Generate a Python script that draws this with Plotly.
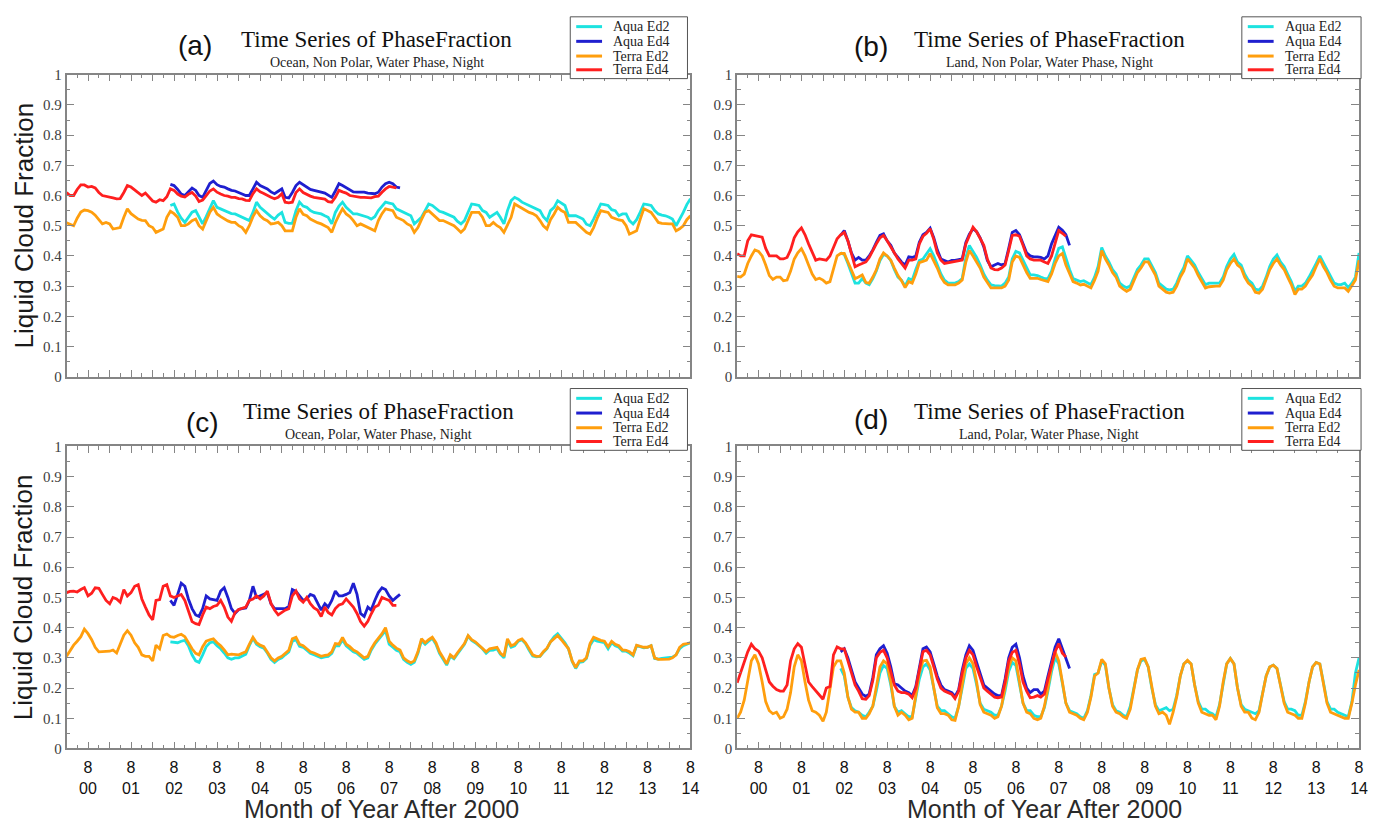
import pandas as pd
import plotly.graph_objects as go

# ---------------- categories / time axes ----------------
terra_months = pd.date_range("2000-02-01", "2014-08-01", freq="MS")      # Terra Ed2
aqua_months = pd.date_range("2002-07-01", "2014-08-01", freq="MS")       # Aqua Ed2
terra_ed4_months = pd.date_range("2000-02-01", "2007-10-01", freq="MS")  # Terra Ed4
aqua_ed4_months = pd.date_range("2002-07-01", "2007-11-01", freq="MS")   # Aqua Ed4

series_names = ["Aqua Ed2", "Aqua Ed4", "Terra Ed2", "Terra Ed4"]
panel_letters = ["(a)", "(b)", "(c)", "(d)"]
panel_subtitles = [
    "Ocean, Non Polar, Water Phase, Night",
    "Land, Non Polar, Water Phase, Night",
    "Ocean, Polar, Water Phase, Night",
    "Land, Polar, Water Phase, Night",
]
x_tick_years = list(range(2000, 2015))
y_tick_values = [0, 0.1, 0.2, 0.3, 0.4, 0.5, 0.6, 0.7, 0.8, 0.9, 1]
y_tick_labels = ["0", "0.1", "0.2", "0.3", "0.4", "0.5", "0.6", "0.7", "0.8", "0.9", "1"]

# ---------------- panel (a): Ocean, Non Polar ----------------
a_terra_ed2 = [
    0.510, 0.505, 0.500, 0.525, 0.545, 0.552, 0.550, 0.545, 0.535, 0.520, 0.506,
    0.511, 0.506, 0.489, 0.492, 0.494, 0.528, 0.556, 0.540, 0.530, 0.522, 0.518, 0.517,
    0.500, 0.494, 0.478, 0.483, 0.489, 0.528, 0.548, 0.540, 0.528, 0.500, 0.500, 0.506,
    0.517, 0.522, 0.500, 0.489, 0.520, 0.545, 0.561, 0.539, 0.530, 0.522, 0.516, 0.511,
    0.511, 0.500, 0.494, 0.478, 0.500, 0.530, 0.550, 0.533, 0.522, 0.517, 0.506, 0.508,
    0.511, 0.500, 0.483, 0.483, 0.483, 0.528, 0.556, 0.538, 0.533, 0.522, 0.515, 0.510,
    0.506, 0.500, 0.494, 0.478, 0.510, 0.535, 0.556, 0.539, 0.530, 0.517, 0.500, 0.506,
    0.500, 0.494, 0.489, 0.483, 0.517, 0.540, 0.556, 0.553, 0.550, 0.528, 0.522, 0.517,
    0.506, 0.500, 0.478, 0.494, 0.520, 0.545, 0.550, 0.539, 0.530, 0.517, 0.517, 0.511,
    0.505, 0.500, 0.490, 0.478, 0.489, 0.520, 0.544, 0.544, 0.544, 0.528, 0.500, 0.500,
    0.511, 0.500, 0.494, 0.478, 0.500, 0.528, 0.572, 0.565, 0.556, 0.550, 0.544, 0.540,
    0.533, 0.517, 0.500, 0.489, 0.520, 0.539, 0.561, 0.550, 0.544, 0.511, 0.511, 0.511,
    0.500, 0.489, 0.478, 0.472, 0.494, 0.525, 0.550, 0.547, 0.544, 0.528, 0.522, 0.519,
    0.517, 0.500, 0.472, 0.478, 0.483, 0.522, 0.556, 0.550, 0.544, 0.528, 0.511, 0.508,
    0.506, 0.506, 0.506, 0.483, 0.490, 0.500, 0.520, 0.533,
]
a_aqua_ed2 = [
    0.567, 0.572, 0.545, 0.525, 0.511, 0.528,
    0.545, 0.550, 0.528, 0.506, 0.530, 0.560, 0.583, 0.561, 0.555, 0.550, 0.545, 0.540,
    0.539, 0.533, 0.528, 0.522, 0.517, 0.544, 0.578, 0.561, 0.550, 0.539, 0.530, 0.522,
    0.535, 0.544, 0.511, 0.508, 0.508, 0.550, 0.578, 0.565, 0.561, 0.550, 0.544, 0.542,
    0.539, 0.533, 0.528, 0.506, 0.544, 0.565, 0.578, 0.561, 0.548, 0.539, 0.539, 0.536,
    0.533, 0.528, 0.522, 0.530, 0.550, 0.565, 0.578, 0.575, 0.572, 0.556, 0.550, 0.544,
    0.538, 0.533, 0.506, 0.517, 0.528, 0.550, 0.572, 0.567, 0.556, 0.548, 0.544, 0.539,
    0.535, 0.528, 0.515, 0.506, 0.517, 0.545, 0.572, 0.570, 0.567, 0.550, 0.544, 0.528,
    0.536, 0.544, 0.528, 0.506, 0.550, 0.583, 0.594, 0.588, 0.578, 0.572, 0.567, 0.561,
    0.556, 0.550, 0.530, 0.517, 0.550, 0.561, 0.583, 0.575, 0.567, 0.533, 0.533, 0.533,
    0.528, 0.522, 0.505, 0.500, 0.522, 0.550, 0.572, 0.570, 0.567, 0.553, 0.550, 0.533,
    0.539, 0.539, 0.517, 0.506, 0.520, 0.545, 0.572, 0.570, 0.567, 0.550, 0.539, 0.535,
    0.533, 0.528, 0.522, 0.500, 0.520, 0.544, 0.570, 0.589,
]
a_terra_ed4 = [
    0.610, 0.600, 0.600, 0.620, 0.635, 0.635, 0.628, 0.630, 0.625, 0.610, 0.600,
    0.598, 0.595, 0.592, 0.589, 0.590, 0.610, 0.633, 0.628, 0.618, 0.610, 0.600, 0.608,
    0.596, 0.582, 0.578, 0.586, 0.583, 0.596, 0.622, 0.617, 0.605, 0.598, 0.595, 0.604,
    0.610, 0.598, 0.580, 0.585, 0.600, 0.615, 0.622, 0.611, 0.605, 0.600, 0.598, 0.594,
    0.594, 0.590, 0.589, 0.584, 0.583, 0.606, 0.622, 0.612, 0.607, 0.600, 0.594, 0.589,
    0.594, 0.606, 0.578, 0.576, 0.578, 0.610, 0.622, 0.610, 0.603, 0.598, 0.594, 0.592,
    0.590, 0.588, 0.580, 0.578, 0.594, 0.617, 0.612, 0.608, 0.600, 0.598, 0.594, 0.594,
    0.594, 0.594, 0.592, 0.596, 0.598, 0.611, 0.622, 0.630, 0.628, 0.625,
]
a_aqua_ed4 = [
    0.637, 0.633, 0.620, 0.605, 0.600, 0.611,
    0.625, 0.617, 0.600, 0.594, 0.617, 0.640, 0.648, 0.636, 0.630, 0.628, 0.622, 0.617,
    0.615, 0.611, 0.605, 0.600, 0.600, 0.622, 0.644, 0.633, 0.628, 0.622, 0.612, 0.606,
    0.614, 0.622, 0.594, 0.592, 0.610, 0.633, 0.644, 0.635, 0.628, 0.620, 0.617, 0.615,
    0.611, 0.608, 0.600, 0.594, 0.615, 0.639, 0.633, 0.625, 0.617, 0.612, 0.611, 0.611,
    0.611, 0.608, 0.606, 0.606, 0.611, 0.628, 0.639, 0.644, 0.639, 0.628, 0.625,
]

# ---------------- panel (b): Land, Non Polar ----------------
b_terra_ed2 = [
    0.332, 0.330, 0.340, 0.375, 0.400, 0.420, 0.415, 0.400, 0.370, 0.335, 0.322,
    0.330, 0.330, 0.318, 0.320, 0.350, 0.390, 0.410, 0.424, 0.400, 0.370, 0.340, 0.322,
    0.326, 0.320, 0.310, 0.315, 0.355, 0.400, 0.408, 0.408, 0.380, 0.350, 0.325, 0.330,
    0.337, 0.312, 0.310, 0.330, 0.354, 0.390, 0.410, 0.400, 0.386, 0.360, 0.335, 0.318,
    0.295, 0.315, 0.310, 0.340, 0.378, 0.382, 0.386, 0.408, 0.385, 0.360, 0.330, 0.312,
    0.304, 0.304, 0.304, 0.310, 0.320, 0.380, 0.418, 0.400, 0.380, 0.360, 0.330, 0.310,
    0.294, 0.294, 0.294, 0.294, 0.300, 0.320, 0.380, 0.400, 0.395, 0.370, 0.345, 0.326,
    0.326, 0.326, 0.322, 0.318, 0.315, 0.340, 0.375, 0.400, 0.408, 0.370, 0.340, 0.315,
    0.310, 0.304, 0.306, 0.300, 0.294, 0.320, 0.350, 0.418, 0.390, 0.370, 0.345, 0.330,
    0.300, 0.290, 0.283, 0.290, 0.315, 0.345, 0.360, 0.380, 0.380, 0.360, 0.337, 0.300,
    0.290, 0.280, 0.277, 0.280, 0.300, 0.330, 0.350, 0.390, 0.375, 0.360, 0.335, 0.315,
    0.294, 0.298, 0.300, 0.300, 0.300, 0.320, 0.354, 0.375, 0.390, 0.370, 0.360, 0.330,
    0.310, 0.300, 0.280, 0.277, 0.290, 0.320, 0.354, 0.375, 0.390, 0.370, 0.355, 0.330,
    0.305, 0.272, 0.290, 0.290, 0.300, 0.320, 0.337, 0.365, 0.390, 0.365, 0.345, 0.320,
    0.300, 0.294, 0.294, 0.294, 0.283, 0.300, 0.320, 0.386,
]
b_aqua_ed2 = [
    0.410, 0.405, 0.375, 0.345, 0.310, 0.310,
    0.325, 0.310, 0.305, 0.325, 0.350, 0.385, 0.405, 0.400, 0.385, 0.355, 0.330, 0.320,
    0.300, 0.325, 0.320, 0.355, 0.385, 0.390, 0.405, 0.424, 0.400, 0.370, 0.340, 0.320,
    0.310, 0.310, 0.310, 0.315, 0.325, 0.395, 0.435, 0.415, 0.395, 0.370, 0.340, 0.320,
    0.304, 0.302, 0.300, 0.300, 0.310, 0.330, 0.390, 0.415, 0.410, 0.385, 0.360, 0.337,
    0.337, 0.335, 0.330, 0.325, 0.325, 0.350, 0.390, 0.425, 0.430, 0.390, 0.355, 0.325,
    0.320, 0.315, 0.318, 0.310, 0.305, 0.330, 0.365, 0.428, 0.400, 0.380, 0.355, 0.340,
    0.310, 0.300, 0.295, 0.300, 0.325, 0.355, 0.370, 0.390, 0.390, 0.370, 0.345, 0.310,
    0.300, 0.290, 0.288, 0.290, 0.310, 0.340, 0.362, 0.400, 0.385, 0.370, 0.345, 0.325,
    0.305, 0.310, 0.310, 0.312, 0.310, 0.330, 0.365, 0.390, 0.405, 0.380, 0.370, 0.340,
    0.320, 0.310, 0.290, 0.287, 0.300, 0.330, 0.365, 0.390, 0.403, 0.380, 0.365, 0.340,
    0.315, 0.283, 0.300, 0.300, 0.310, 0.330, 0.350, 0.375, 0.400, 0.378, 0.355, 0.330,
    0.310, 0.305, 0.305, 0.310, 0.295, 0.310, 0.330, 0.410,
]
b_terra_ed4 = [
    0.408, 0.400, 0.400, 0.450, 0.470, 0.468, 0.465, 0.462, 0.425, 0.400, 0.400,
    0.400, 0.390, 0.390, 0.395, 0.420, 0.460, 0.480, 0.493, 0.470, 0.440, 0.410, 0.386,
    0.390, 0.388, 0.386, 0.400, 0.430, 0.457, 0.470, 0.478, 0.450, 0.410, 0.364, 0.370,
    0.375, 0.380, 0.395, 0.420, 0.440, 0.460, 0.468, 0.450, 0.430, 0.408, 0.390, 0.375,
    0.360, 0.386, 0.386, 0.390, 0.440, 0.465, 0.475, 0.490, 0.455, 0.410, 0.386, 0.375,
    0.377, 0.380, 0.380, 0.383, 0.386, 0.440, 0.468, 0.495, 0.480, 0.460, 0.435, 0.390,
    0.360, 0.355, 0.354, 0.360, 0.370, 0.418, 0.468, 0.470, 0.465, 0.435, 0.400, 0.390,
    0.386, 0.386, 0.386, 0.380, 0.375, 0.400, 0.440, 0.484, 0.475, 0.465,
]
b_aqua_ed4 = [
    0.468, 0.484, 0.450, 0.410, 0.386, 0.395,
    0.386, 0.386, 0.400, 0.420, 0.445, 0.468, 0.473, 0.450, 0.435, 0.410, 0.395, 0.380,
    0.370, 0.397, 0.395, 0.400, 0.445, 0.470, 0.478, 0.492, 0.460, 0.420, 0.390, 0.385,
    0.380, 0.385, 0.385, 0.388, 0.390, 0.445, 0.472, 0.490, 0.480, 0.460, 0.430, 0.385,
    0.364, 0.370, 0.375, 0.370, 0.375, 0.425, 0.478, 0.484, 0.470, 0.440, 0.410, 0.400,
    0.397, 0.397, 0.395, 0.390, 0.400, 0.440, 0.470, 0.495, 0.485, 0.470, 0.435,
]

# ---------------- panel (c): Ocean, Polar ----------------
c_terra_ed2 = [
    0.305, 0.325, 0.342, 0.355, 0.370, 0.395, 0.380, 0.360, 0.335, 0.320, 0.320,
    0.320, 0.322, 0.326, 0.316, 0.345, 0.375, 0.390, 0.375, 0.350, 0.335, 0.310, 0.305,
    0.305, 0.290, 0.342, 0.330, 0.374, 0.379, 0.370, 0.368, 0.374, 0.378, 0.370, 0.350,
    0.330, 0.315, 0.310, 0.337, 0.355, 0.360, 0.363, 0.350, 0.340, 0.326, 0.310, 0.312,
    0.310, 0.310, 0.315, 0.320, 0.345, 0.368, 0.350, 0.342, 0.337, 0.320, 0.300, 0.290,
    0.300, 0.305, 0.316, 0.325, 0.363, 0.368, 0.345, 0.340, 0.330, 0.320, 0.316, 0.310,
    0.305, 0.308, 0.310, 0.320, 0.347, 0.345, 0.368, 0.345, 0.337, 0.326, 0.320, 0.310,
    0.300, 0.305, 0.330, 0.350, 0.363, 0.380, 0.400, 0.355, 0.342, 0.332, 0.326, 0.300,
    0.290, 0.284, 0.290, 0.320, 0.363, 0.350, 0.360, 0.368, 0.350, 0.320, 0.300, 0.280,
    0.310, 0.300, 0.316, 0.330, 0.347, 0.374, 0.360, 0.353, 0.342, 0.332, 0.320, 0.330,
    0.332, 0.335, 0.316, 0.305, 0.363, 0.340, 0.345, 0.358, 0.363, 0.350, 0.330, 0.310,
    0.305, 0.306, 0.320, 0.332, 0.353, 0.365, 0.374, 0.360, 0.345, 0.330, 0.290, 0.268,
    0.290, 0.290, 0.300, 0.347, 0.368, 0.362, 0.358, 0.355, 0.337, 0.355, 0.345, 0.340,
    0.326, 0.325, 0.320, 0.310, 0.342, 0.338, 0.335, 0.335, 0.340, 0.300, 0.295, 0.295,
    0.295, 0.296, 0.300, 0.310, 0.335, 0.345, 0.347, 0.350,
]
c_aqua_ed2 = [
    0.353, 0.352, 0.350, 0.355, 0.358, 0.340,
    0.310, 0.290, 0.285, 0.310, 0.337, 0.350, 0.353, 0.340, 0.330, 0.316, 0.300, 0.295,
    0.300, 0.300, 0.305, 0.312, 0.340, 0.365, 0.345, 0.337, 0.332, 0.316, 0.295, 0.285,
    0.295, 0.300, 0.310, 0.320, 0.355, 0.360, 0.338, 0.335, 0.325, 0.315, 0.310, 0.305,
    0.300, 0.303, 0.305, 0.315, 0.340, 0.340, 0.360, 0.340, 0.330, 0.320, 0.315, 0.305,
    0.295, 0.300, 0.325, 0.345, 0.358, 0.375, 0.390, 0.345, 0.335, 0.325, 0.320, 0.295,
    0.285, 0.278, 0.285, 0.315, 0.357, 0.345, 0.355, 0.365, 0.345, 0.315, 0.295, 0.276,
    0.305, 0.297, 0.312, 0.327, 0.345, 0.372, 0.358, 0.350, 0.340, 0.330, 0.315, 0.325,
    0.326, 0.330, 0.312, 0.300, 0.356, 0.335, 0.340, 0.355, 0.360, 0.347, 0.325, 0.306,
    0.303, 0.305, 0.318, 0.330, 0.353, 0.370, 0.380, 0.365, 0.350, 0.330, 0.288, 0.265,
    0.285, 0.287, 0.298, 0.342, 0.360, 0.355, 0.352, 0.350, 0.330, 0.350, 0.340, 0.335,
    0.322, 0.322, 0.316, 0.307, 0.340, 0.336, 0.333, 0.335, 0.340, 0.298, 0.296, 0.298,
    0.300, 0.300, 0.302, 0.310, 0.330, 0.340, 0.345, 0.350,
]
c_terra_ed4 = [
    0.516, 0.520, 0.521, 0.518, 0.526, 0.532, 0.505, 0.514, 0.532, 0.530, 0.510,
    0.490, 0.479, 0.500, 0.495, 0.484, 0.526, 0.505, 0.516, 0.537, 0.542, 0.495, 0.468,
    0.442, 0.426, 0.490, 0.493, 0.537, 0.542, 0.505, 0.500, 0.505, 0.510, 0.490, 0.458,
    0.420, 0.413, 0.410, 0.442, 0.468, 0.463, 0.470, 0.474, 0.490, 0.468, 0.435, 0.421,
    0.450, 0.460, 0.463, 0.468, 0.490, 0.495, 0.505, 0.495, 0.505, 0.521, 0.480, 0.458,
    0.442, 0.450, 0.458, 0.463, 0.505, 0.521, 0.495, 0.484, 0.500, 0.479, 0.465, 0.458,
    0.437, 0.468, 0.450, 0.442, 0.463, 0.475, 0.479, 0.495, 0.480, 0.468, 0.447, 0.420,
    0.405, 0.421, 0.445, 0.468, 0.474, 0.500, 0.495, 0.490, 0.474, 0.474,
]
c_aqua_ed4 = [
    0.490, 0.474, 0.510, 0.547, 0.537, 0.495,
    0.463, 0.442, 0.437, 0.463, 0.505, 0.495, 0.493, 0.490, 0.521, 0.532, 0.500, 0.463,
    0.447, 0.460, 0.463, 0.465, 0.490, 0.537, 0.500, 0.505, 0.510, 0.516, 0.479, 0.463,
    0.463, 0.463, 0.463, 0.470, 0.526, 0.520, 0.505, 0.490, 0.495, 0.510, 0.505, 0.484,
    0.458, 0.479, 0.468, 0.490, 0.521, 0.505, 0.505, 0.510, 0.516, 0.547, 0.510, 0.447,
    0.437, 0.468, 0.458, 0.490, 0.516, 0.532, 0.526, 0.505, 0.490, 0.500, 0.510,
]

# ---------------- panel (d): Land, Polar ----------------
d_terra_ed2 = [
    0.100, 0.120, 0.160, 0.230, 0.290, 0.310, 0.280, 0.220, 0.155, 0.125, 0.115,
    0.120, 0.100, 0.105, 0.130, 0.185, 0.270, 0.310, 0.290, 0.220, 0.160, 0.125, 0.120,
    0.110, 0.090, 0.120, 0.200, 0.270, 0.290, 0.290, 0.250, 0.170, 0.130, 0.120, 0.120,
    0.100, 0.100, 0.115, 0.140, 0.200, 0.270, 0.290, 0.280, 0.220, 0.140, 0.110, 0.120,
    0.110, 0.095, 0.100, 0.170, 0.250, 0.290, 0.292, 0.270, 0.200, 0.135, 0.115, 0.115,
    0.110, 0.095, 0.093, 0.140, 0.210, 0.280, 0.300, 0.280, 0.220, 0.145, 0.120, 0.115,
    0.110, 0.100, 0.105, 0.140, 0.200, 0.270, 0.300, 0.290, 0.220, 0.150, 0.120, 0.115,
    0.100, 0.095, 0.100, 0.140, 0.200, 0.270, 0.320, 0.290, 0.220, 0.150, 0.120, 0.115,
    0.110, 0.100, 0.095, 0.120, 0.170, 0.240, 0.250, 0.295, 0.280, 0.200, 0.140, 0.120,
    0.115, 0.105, 0.100, 0.130, 0.190, 0.260, 0.295, 0.298, 0.270, 0.200, 0.140, 0.115,
    0.120, 0.110, 0.080, 0.120, 0.170, 0.240, 0.280, 0.292, 0.280, 0.210, 0.150, 0.120,
    0.115, 0.110, 0.110, 0.095, 0.140, 0.220, 0.280, 0.298, 0.280, 0.200, 0.140, 0.120,
    0.120, 0.100, 0.095, 0.120, 0.180, 0.240, 0.270, 0.276, 0.265, 0.210, 0.150, 0.120,
    0.115, 0.110, 0.100, 0.100, 0.150, 0.220, 0.270, 0.285, 0.280, 0.220, 0.150, 0.120,
    0.115, 0.110, 0.105, 0.100, 0.100, 0.150, 0.210, 0.260,
]
d_aqua_ed2 = [
    0.265, 0.240, 0.170, 0.135, 0.125, 0.120,
    0.110, 0.105, 0.120, 0.140, 0.190, 0.250, 0.275, 0.265, 0.210, 0.140, 0.120, 0.125,
    0.115, 0.105, 0.105, 0.165, 0.230, 0.270, 0.280, 0.260, 0.200, 0.140, 0.125, 0.125,
    0.115, 0.105, 0.100, 0.140, 0.200, 0.265, 0.280, 0.265, 0.210, 0.150, 0.130, 0.125,
    0.120, 0.110, 0.110, 0.140, 0.190, 0.255, 0.285, 0.275, 0.210, 0.150, 0.125, 0.125,
    0.110, 0.105, 0.105, 0.135, 0.190, 0.255, 0.300, 0.280, 0.215, 0.150, 0.125, 0.120,
    0.115, 0.105, 0.100, 0.125, 0.175, 0.245, 0.250, 0.290, 0.275, 0.200, 0.145, 0.125,
    0.120, 0.110, 0.105, 0.140, 0.195, 0.260, 0.290, 0.295, 0.270, 0.200, 0.145, 0.125,
    0.130, 0.135, 0.125, 0.130, 0.175, 0.240, 0.280, 0.290, 0.280, 0.210, 0.155, 0.130,
    0.130, 0.120, 0.115, 0.105, 0.145, 0.220, 0.280, 0.298, 0.280, 0.200, 0.145, 0.130,
    0.125, 0.120, 0.115, 0.125, 0.180, 0.240, 0.270, 0.276, 0.265, 0.210, 0.155, 0.130,
    0.130, 0.125, 0.110, 0.110, 0.155, 0.220, 0.270, 0.285, 0.280, 0.220, 0.155, 0.130,
    0.130, 0.120, 0.115, 0.110, 0.105, 0.155, 0.250, 0.300,
]
d_terra_ed4 = [
    0.217, 0.250, 0.285, 0.320, 0.345, 0.330, 0.322, 0.300, 0.260, 0.220, 0.206,
    0.195, 0.190, 0.190, 0.210, 0.290, 0.330, 0.347, 0.335, 0.280, 0.220, 0.205, 0.190,
    0.175, 0.163, 0.200, 0.205, 0.310, 0.336, 0.330, 0.330, 0.290, 0.250, 0.210, 0.190,
    0.165, 0.163, 0.175, 0.225, 0.300, 0.318, 0.325, 0.300, 0.250, 0.210, 0.190, 0.185,
    0.185, 0.180, 0.168, 0.200, 0.260, 0.320, 0.325, 0.310, 0.270, 0.230, 0.200, 0.190,
    0.185, 0.180, 0.165, 0.190, 0.250, 0.300, 0.325, 0.310, 0.270, 0.235, 0.200, 0.190,
    0.180, 0.170, 0.168, 0.170, 0.220, 0.290, 0.318, 0.325, 0.280, 0.220, 0.190, 0.168,
    0.170, 0.175, 0.170, 0.180, 0.230, 0.280, 0.320, 0.347, 0.315, 0.303,
]
d_aqua_ed4 = [
    0.320, 0.330, 0.300, 0.260, 0.220, 0.200,
    0.180, 0.172, 0.180, 0.235, 0.310, 0.330, 0.340, 0.315, 0.270, 0.215, 0.210, 0.200,
    0.190, 0.185, 0.175, 0.205, 0.270, 0.330, 0.336, 0.320, 0.280, 0.240, 0.210, 0.195,
    0.190, 0.185, 0.172, 0.195, 0.260, 0.310, 0.340, 0.325, 0.285, 0.245, 0.210, 0.200,
    0.190, 0.180, 0.175, 0.175, 0.230, 0.300, 0.335, 0.345, 0.300, 0.240, 0.200, 0.185,
    0.195, 0.195, 0.180, 0.190, 0.240, 0.290, 0.335, 0.363, 0.330, 0.300, 0.265,
]

# ---------------- styling ----------------
colors = {"Aqua Ed2": "#1CE3E0", "Aqua Ed4": "#1F1FCF",
          "Terra Ed2": "#FF9E0D", "Terra Ed4": "#FF1F1F"}
frame_color = "#858585"
W, H = 1379, 831
SERIF = "Liberation Serif, Times New Roman, serif"
SANS = "Liberation Sans, Arial, sans-serif"

# plot-area geometry in pixels: (left, right, top, bottom)
panel_px = [(67, 695, 68, 376), (742, 1368, 68, 376),
            (67, 695, 447, 755), (742, 1368, 447, 755)]
# legend boxes in pixels: (left, right, top, bottom)
legend_px = [(574, 692, 9, 72), (1250, 1370, 9, 72),
             (574, 692, 388, 451), (1250, 1370, 388, 451)]
legend_row_offsets = [10, 25, 40, 54]

panels = [
    (a_aqua_ed2, a_aqua_ed4, a_terra_ed2, a_terra_ed4),
    (b_aqua_ed2, b_aqua_ed4, b_terra_ed2, b_terra_ed4),
    (c_aqua_ed2, c_aqua_ed4, c_terra_ed2, c_terra_ed4),
    (d_aqua_ed2, d_aqua_ed4, d_terra_ed2, d_terra_ed4),
]
x_sets = [aqua_months, aqua_ed4_months, terra_months, terra_ed4_months]

fig = go.Figure()
for p, series in enumerate(panels):
    suffix = "" if p == 0 else str(p + 1)
    for name, xs, ys in zip(series_names, x_sets, series):
        fig.add_trace(go.Scatter(
            x=xs[:len(ys)], y=ys, mode="lines", name=name,
            line=dict(color=colors[name], width=2.8),
            xaxis="x" + suffix, yaxis="y" + suffix,
            showlegend=False, legendgroup=name,
        ))

aug_ticks = [f"{y}-08-01" for y in x_tick_years]
feb_ticks = [f"{y}-02-01" for y in x_tick_years[1:]]
minor_x = [f"{y}-{m:02d}-01" for y in x_tick_years for m in (5, 11)
           if f"{y}-{m:02d}-01" <= "2014-08-01"]
x_tickvals = aug_ticks + feb_ticks
x_ticktext = [f"8<br>{str(y)[2:]}" for y in x_tick_years] + ["" for _ in feb_ticks]

layout = dict(
    width=W, height=H, margin=dict(l=0, r=0, t=0, b=0),
    paper_bgcolor="white", plot_bgcolor="white", showlegend=False,
)

for p, (l, r, t, b) in enumerate(panel_px):
    suffix = "" if p == 0 else str(p + 1)
    bottom_row = p >= 2
    layout["xaxis" + suffix] = dict(
        type="date", domain=[l / W, r / W], anchor="y" + suffix,
        range=["2000-02-01", "2014-08-01"],
        showline=True, linecolor=frame_color, linewidth=1.6, mirror="allticks",
        ticks="inside", ticklen=7, tickwidth=1.2, tickcolor=frame_color,
        tickmode="array", tickvals=x_tickvals, ticktext=x_ticktext,
        showticklabels=bottom_row, ticklabelstandoff=4,
        tickfont=dict(family=SANS, size=16, color="#111"),
        minor=dict(tickmode="array", tickvals=minor_x, ticks="inside",
                   ticklen=4, tickwidth=1.2, tickcolor=frame_color, showgrid=False),
        showgrid=False, zeroline=False, fixedrange=True,
    )
    layout["yaxis" + suffix] = dict(
        domain=[1 - b / H, 1 - t / H], anchor="x" + suffix, range=[0, 1],
        showline=True, linecolor=frame_color, linewidth=1.6, mirror="allticks",
        ticks="inside", ticklen=8, tickwidth=1.2, tickcolor=frame_color,
        tickmode="array", tickvals=y_tick_values, ticktext=y_tick_labels,
        tickfont=dict(family=SERIF, size=15, color="#404040"),
        minor=dict(tickmode="array",
                   tickvals=[0.05, 0.15, 0.25, 0.35, 0.45, 0.55, 0.65, 0.75, 0.85, 0.95],
                   ticks="inside", ticklen=4, tickwidth=1.2, tickcolor=frame_color, showgrid=False),
        showgrid=False, zeroline=False, fixedrange=True,
    )

shapes = []
annotations = []

# legend box drawn inside each panel's upper-right corner (as in the original figure)
for p, (l, r, t, b) in enumerate(legend_px):
    shapes.append(dict(type="rect", xref="paper", yref="paper", layer="above",
                       x0=l / W, x1=r / W, y0=1 - b / H, y1=1 - t / H,
                       line=dict(color="#555", width=1), fillcolor="white"))
    for k, name in enumerate(series_names):
        yy = 1 - (t + legend_row_offsets[k]) / H
        shapes.append(dict(type="line", xref="paper", yref="paper", layer="above",
                           x0=(l + 6) / W, x1=(l + 32) / W, y0=yy, y1=yy,
                           line=dict(color=colors[name], width=3)))
        annotations.append(dict(text=name, x=(l + 42) / W, y=yy, xref="paper", yref="paper",
                                showarrow=False, xanchor="left", yanchor="middle", borderpad=0,
                                font=dict(family=SERIF, size=14, color="#222")))

# (title centre y, subtitle centre y, letter centre y) in pixels
title_rows = [(32, 56, 38), (32, 56, 39), (411, 435, 423), (411, 435, 420)]
letter_x = [196, 877, 204, 877]
title_x = [379, 1056, 381, 1056]
for p in range(4):
    ty, sy, ly = title_rows[p]
    annotations.append(dict(text=panel_letters[p], x=letter_x[p] / W, y=1 - ly / H,
                            xref="paper", yref="paper", showarrow=False, borderpad=0,
                            xanchor="center", yanchor="middle",
                            font=dict(family=SANS, size=28, color="#111")))
    annotations.append(dict(text="Time Series of PhaseFraction", x=title_x[p] / W, y=1 - ty / H,
                            xref="paper", yref="paper", showarrow=False, borderpad=0,
                            xanchor="center", yanchor="middle",
                            font=dict(family=SERIF, size=23, color="#111")))
    annotations.append(dict(text=panel_subtitles[p], x=title_x[p] / W, y=1 - sy / H,
                            xref="paper", yref="paper", showarrow=False, borderpad=0,
                            xanchor="center", yanchor="middle",
                            font=dict(family=SERIF, size=14, color="#222")))

for cy in (222, 601):
    annotations.append(dict(text="Liquid Cloud Fraction", x=24 / W, y=1 - cy / H,
                            xref="paper", yref="paper", showarrow=False, textangle=-90,
                            xanchor="center", yanchor="middle",
                            font=dict(family=SANS, size=26, color="#1a1a1a")))
for cx in (384, 1051):
    annotations.append(dict(text="Month of Year After 2000", x=cx / W, y=1 - 817 / H,
                            xref="paper", yref="paper", showarrow=False,
                            xanchor="center", yanchor="middle",
                            font=dict(family=SANS, size=25, color="#2a2a2a")))

layout["shapes"] = shapes
layout["annotations"] = annotations
fig.update_layout(**layout)
fig.write_html("out.html")
